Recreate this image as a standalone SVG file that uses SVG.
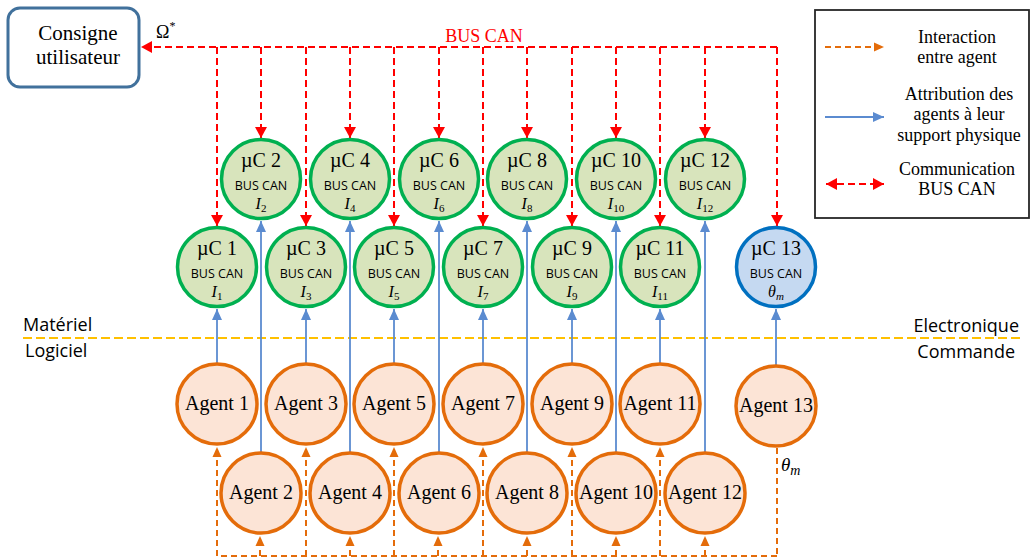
<svg xmlns="http://www.w3.org/2000/svg" width="1032" height="558" viewBox="0 0 1032 558">
<style>
.serif{font-family:"Liberation Serif","Times New Roman",serif;fill:#000}
.sans{font-family:"Open Sans","Liberation Sans",sans-serif;fill:#000}
.mc{fill:#D8E4BC;stroke:#00B050;stroke-width:3.5}
.mc13{fill:#C5D9F1;stroke:#0070C0;stroke-width:3.5}
.ag{fill:#FCE4D6;stroke:#E46C0A;stroke-width:3.5}
.red{stroke:#FF0000;stroke-width:2;stroke-dasharray:7 4;fill:none}
.blue{stroke:#5B8BD0;stroke-width:1.8;fill:none}
.org{stroke:#E46C0A;stroke-width:2;stroke-dasharray:6 4;fill:none}
.yel{stroke:#FFC000;stroke-width:2;stroke-dasharray:9 4;fill:none}
.t1{font-size:20px;text-anchor:middle}
.t2{font-size:12.5px;text-anchor:middle}
.at{font-size:20px;text-anchor:middle}
.leg{font-size:18px;text-anchor:middle}
</style>
<defs>
<marker id="ar" markerUnits="userSpaceOnUse" markerWidth="12" markerHeight="12" refX="11" refY="6" orient="auto"><path d="M0,0 L11,6 L0,12 Z" fill="#FF0000"/></marker>
<marker id="arS" markerUnits="userSpaceOnUse" markerWidth="12" markerHeight="12" refX="11" refY="6" orient="auto-start-reverse"><path d="M0,0 L11,6 L0,12 Z" fill="#FF0000"/></marker>
<marker id="ab" markerUnits="userSpaceOnUse" markerWidth="12" markerHeight="12" refX="11" refY="6" orient="auto"><path d="M0,1 L11,6 L0,11 Z" fill="#5B8BD0"/></marker>
<marker id="ao" markerUnits="userSpaceOnUse" markerWidth="12" markerHeight="12" refX="10" refY="6" orient="auto"><path d="M0,1.5 L10,6 L0,10.5 Z" fill="#E46C0A"/></marker>
</defs>

<!-- Separation line -->
<line class="yel" x1="23" y1="338" x2="1020" y2="338"/>
<text class="sans" x="23" y="331" font-size="18">Matériel</text>
<text class="sans" x="25" y="357" font-size="18">Logiciel</text>
<text class="sans" x="1019" y="332" font-size="18" text-anchor="end">Electronique</text>
<text class="sans" x="1015" y="358" font-size="18" text-anchor="end">Commande</text>

<g id="connectors">
<!-- Bus CAN -->
<line class="red" x1="777" y1="47" x2="141" y2="47" marker-end="url(#ar)"/>
<text class="serif" x="484" y="42" font-size="18" text-anchor="middle" style="fill:#FF0000">BUS CAN</text>
<line class="red" x1="217" y1="47" x2="217" y2="226" marker-end="url(#ar)"/>
<line class="red" x1="261" y1="47" x2="261" y2="138" marker-end="url(#ar)"/>
<line class="red" x1="306" y1="47" x2="306" y2="226" marker-end="url(#ar)"/>
<line class="red" x1="350" y1="47" x2="350" y2="138" marker-end="url(#ar)"/>
<line class="red" x1="394" y1="47" x2="394" y2="226" marker-end="url(#ar)"/>
<line class="red" x1="439" y1="47" x2="439" y2="138" marker-end="url(#ar)"/>
<line class="red" x1="483" y1="47" x2="483" y2="226" marker-end="url(#ar)"/>
<line class="red" x1="527" y1="47" x2="527" y2="138" marker-end="url(#ar)"/>
<line class="red" x1="572" y1="47" x2="572" y2="226" marker-end="url(#ar)"/>
<line class="red" x1="616" y1="47" x2="616" y2="138" marker-end="url(#ar)"/>
<line class="red" x1="660" y1="47" x2="660" y2="226" marker-end="url(#ar)"/>
<line class="red" x1="705" y1="47" x2="705" y2="138" marker-end="url(#ar)"/>
<line class="red" x1="777" y1="47" x2="777" y2="226" marker-end="url(#ar)"/>
<!-- Attribution -->
<line class="blue" x1="217" y1="363" x2="217" y2="309" marker-end="url(#ab)"/>
<line class="blue" x1="261" y1="452" x2="261" y2="221" marker-end="url(#ab)"/>
<line class="blue" x1="306" y1="363" x2="306" y2="309" marker-end="url(#ab)"/>
<line class="blue" x1="350" y1="452" x2="350" y2="221" marker-end="url(#ab)"/>
<line class="blue" x1="394" y1="363" x2="394" y2="309" marker-end="url(#ab)"/>
<line class="blue" x1="439" y1="452" x2="439" y2="221" marker-end="url(#ab)"/>
<line class="blue" x1="483" y1="363" x2="483" y2="309" marker-end="url(#ab)"/>
<line class="blue" x1="527" y1="452" x2="527" y2="221" marker-end="url(#ab)"/>
<line class="blue" x1="572" y1="363" x2="572" y2="309" marker-end="url(#ab)"/>
<line class="blue" x1="616" y1="452" x2="616" y2="221" marker-end="url(#ab)"/>
<line class="blue" x1="660" y1="363" x2="660" y2="309" marker-end="url(#ab)"/>
<line class="blue" x1="705" y1="452" x2="705" y2="221" marker-end="url(#ab)"/>
<line class="blue" x1="776" y1="365" x2="776" y2="309" marker-end="url(#ab)"/>
<!-- Interaction -->
<line class="org" x1="777" y1="448" x2="777" y2="556"/>
<line class="org" x1="777" y1="556" x2="217" y2="556"/>
<line class="org" x1="217" y1="556" x2="217" y2="447" marker-end="url(#ao)"/>
<line class="org" x1="260" y1="556" x2="260" y2="536" marker-end="url(#ao)"/>
<line class="org" x1="306" y1="556" x2="306" y2="447" marker-end="url(#ao)"/>
<line class="org" x1="350" y1="556" x2="350" y2="536" marker-end="url(#ao)"/>
<line class="org" x1="394" y1="556" x2="394" y2="447" marker-end="url(#ao)"/>
<line class="org" x1="438" y1="556" x2="438" y2="536" marker-end="url(#ao)"/>
<line class="org" x1="483" y1="556" x2="483" y2="447" marker-end="url(#ao)"/>
<line class="org" x1="527" y1="556" x2="527" y2="536" marker-end="url(#ao)"/>
<line class="org" x1="572" y1="556" x2="572" y2="447" marker-end="url(#ao)"/>
<line class="org" x1="616" y1="556" x2="616" y2="536" marker-end="url(#ao)"/>
<line class="org" x1="660" y1="556" x2="660" y2="447" marker-end="url(#ao)"/>
<line class="org" x1="705" y1="556" x2="705" y2="536" marker-end="url(#ao)"/>
<text class="serif" x="781" y="471" font-size="19" font-style="italic">θ<tspan font-size="14" dy="4">m</tspan></text>
</g>

<g id="consigne">
<rect x="8" y="8" width="131" height="79" rx="12" fill="#fff" stroke="#41719C" stroke-width="3"/>
<text class="serif" x="78" y="40" font-size="21" text-anchor="middle">Consigne</text>
<text class="serif" x="78" y="64" font-size="21" text-anchor="middle">utilisateur</text>
</g>
<text class="serif" x="156" y="38" font-size="18">Ω<tspan font-size="12" dy="-8">*</tspan></text>

<!-- Microcontrollers -->
<g id="uc1"><circle class="mc" cx="217" cy="267" r="39.5"/><text class="serif t1" x="217" y="255">µC 1</text><text class="sans t2" x="217" y="278">BUS CAN</text><text class="serif" x="217" y="297" font-size="16" text-anchor="middle" font-style="italic">I<tspan font-size="11" font-style="normal" dy="3">1</tspan></text></g>
<g id="uc2"><circle class="mc" cx="261" cy="179" r="39.5"/><text class="serif t1" x="261" y="167">µC 2</text><text class="sans t2" x="261" y="190">BUS CAN</text><text class="serif" x="261" y="209" font-size="16" text-anchor="middle" font-style="italic">I<tspan font-size="11" font-style="normal" dy="3">2</tspan></text></g>
<g id="uc3"><circle class="mc" cx="306" cy="267" r="39.5"/><text class="serif t1" x="306" y="255">µC 3</text><text class="sans t2" x="306" y="278">BUS CAN</text><text class="serif" x="306" y="297" font-size="16" text-anchor="middle" font-style="italic">I<tspan font-size="11" font-style="normal" dy="3">3</tspan></text></g>
<g id="uc4"><circle class="mc" cx="350" cy="179" r="39.5"/><text class="serif t1" x="350" y="167">µC 4</text><text class="sans t2" x="350" y="190">BUS CAN</text><text class="serif" x="350" y="209" font-size="16" text-anchor="middle" font-style="italic">I<tspan font-size="11" font-style="normal" dy="3">4</tspan></text></g>
<g id="uc5"><circle class="mc" cx="394" cy="267" r="39.5"/><text class="serif t1" x="394" y="255">µC 5</text><text class="sans t2" x="394" y="278">BUS CAN</text><text class="serif" x="394" y="297" font-size="16" text-anchor="middle" font-style="italic">I<tspan font-size="11" font-style="normal" dy="3">5</tspan></text></g>
<g id="uc6"><circle class="mc" cx="439" cy="179" r="39.5"/><text class="serif t1" x="439" y="167">µC 6</text><text class="sans t2" x="439" y="190">BUS CAN</text><text class="serif" x="439" y="209" font-size="16" text-anchor="middle" font-style="italic">I<tspan font-size="11" font-style="normal" dy="3">6</tspan></text></g>
<g id="uc7"><circle class="mc" cx="483" cy="267" r="39.5"/><text class="serif t1" x="483" y="255">µC 7</text><text class="sans t2" x="483" y="278">BUS CAN</text><text class="serif" x="483" y="297" font-size="16" text-anchor="middle" font-style="italic">I<tspan font-size="11" font-style="normal" dy="3">7</tspan></text></g>
<g id="uc8"><circle class="mc" cx="527" cy="179" r="39.5"/><text class="serif t1" x="527" y="167">µC 8</text><text class="sans t2" x="527" y="190">BUS CAN</text><text class="serif" x="527" y="209" font-size="16" text-anchor="middle" font-style="italic">I<tspan font-size="11" font-style="normal" dy="3">8</tspan></text></g>
<g id="uc9"><circle class="mc" cx="572" cy="267" r="39.5"/><text class="serif t1" x="572" y="255">µC 9</text><text class="sans t2" x="572" y="278">BUS CAN</text><text class="serif" x="572" y="297" font-size="16" text-anchor="middle" font-style="italic">I<tspan font-size="11" font-style="normal" dy="3">9</tspan></text></g>
<g id="uc10"><circle class="mc" cx="616" cy="179" r="39.5"/><text class="serif t1" x="616" y="167">µC 10</text><text class="sans t2" x="616" y="190">BUS CAN</text><text class="serif" x="616" y="209" font-size="16" text-anchor="middle" font-style="italic">I<tspan font-size="11" font-style="normal" dy="3">10</tspan></text></g>
<g id="uc11"><circle class="mc" cx="660" cy="267" r="39.5"/><text class="serif t1" x="660" y="255">µC 11</text><text class="sans t2" x="660" y="278">BUS CAN</text><text class="serif" x="660" y="297" font-size="16" text-anchor="middle" font-style="italic">I<tspan font-size="11" font-style="normal" dy="3">11</tspan></text></g>
<g id="uc12"><circle class="mc" cx="705" cy="179" r="39.5"/><text class="serif t1" x="705" y="167">µC 12</text><text class="sans t2" x="705" y="190">BUS CAN</text><text class="serif" x="705" y="209" font-size="16" text-anchor="middle" font-style="italic">I<tspan font-size="11" font-style="normal" dy="3">12</tspan></text></g>
<g id="uc13"><circle class="mc13" cx="776" cy="267" r="39.5"/><text class="serif t1" x="776" y="255">µC 13</text><text class="sans t2" x="776" y="278">BUS CAN</text><text class="serif" x="776" y="297" font-size="16" text-anchor="middle" font-style="italic">θ<tspan font-size="11" dy="3">m</tspan></text></g>

<!-- Agents -->
<g id="agent1"><circle class="ag" cx="217" cy="404" r="40"/><text class="serif at" x="217" y="410">Agent 1</text></g>
<g id="agent2"><circle class="ag" cx="261" cy="493" r="40"/><text class="serif at" x="261" y="499">Agent 2</text></g>
<g id="agent3"><circle class="ag" cx="306" cy="404" r="40"/><text class="serif at" x="306" y="410">Agent 3</text></g>
<g id="agent4"><circle class="ag" cx="350" cy="493" r="40"/><text class="serif at" x="350" y="499">Agent 4</text></g>
<g id="agent5"><circle class="ag" cx="394" cy="404" r="40"/><text class="serif at" x="394" y="410">Agent 5</text></g>
<g id="agent6"><circle class="ag" cx="439" cy="493" r="40"/><text class="serif at" x="439" y="499">Agent 6</text></g>
<g id="agent7"><circle class="ag" cx="483" cy="404" r="40"/><text class="serif at" x="483" y="410">Agent 7</text></g>
<g id="agent8"><circle class="ag" cx="527" cy="493" r="40"/><text class="serif at" x="527" y="499">Agent 8</text></g>
<g id="agent9"><circle class="ag" cx="572" cy="404" r="40"/><text class="serif at" x="572" y="410">Agent 9</text></g>
<g id="agent10"><circle class="ag" cx="616" cy="493" r="40"/><text class="serif at" x="616" y="499">Agent 10</text></g>
<g id="agent11"><circle class="ag" cx="660" cy="404" r="40"/><text class="serif at" x="660" y="410">Agent 11</text></g>
<g id="agent12"><circle class="ag" cx="705" cy="493" r="40"/><text class="serif at" x="705" y="499">Agent 12</text></g>
<g id="agent13"><circle class="ag" cx="776" cy="406" r="40"/><text class="serif at" x="776" y="412">Agent 13</text></g>

<!-- Legend -->
<g id="legend">
<rect x="815" y="10" width="214" height="208" fill="#fff" stroke="#262626" stroke-width="1.8"/>
<line class="org" x1="825" y1="47" x2="884" y2="47" marker-end="url(#ao)"/>
<text class="serif leg" x="957" y="43">Interaction</text>
<text class="serif leg" x="957" y="63">entre agent</text>
<line class="blue" x1="825" y1="117" x2="884" y2="117" marker-end="url(#ab)"/>
<text class="serif leg" x="959" y="100">Attribution des</text>
<text class="serif leg" x="959" y="120">agents à leur</text>
<text class="serif leg" x="959" y="141">support physique</text>
<line class="red" x1="826" y1="184" x2="884" y2="184" marker-start="url(#arS)" marker-end="url(#ar)"/>
<text class="serif leg" x="957" y="175">Communication</text>
<text class="serif leg" x="957" y="195">BUS CAN</text>
</g>
</svg>
